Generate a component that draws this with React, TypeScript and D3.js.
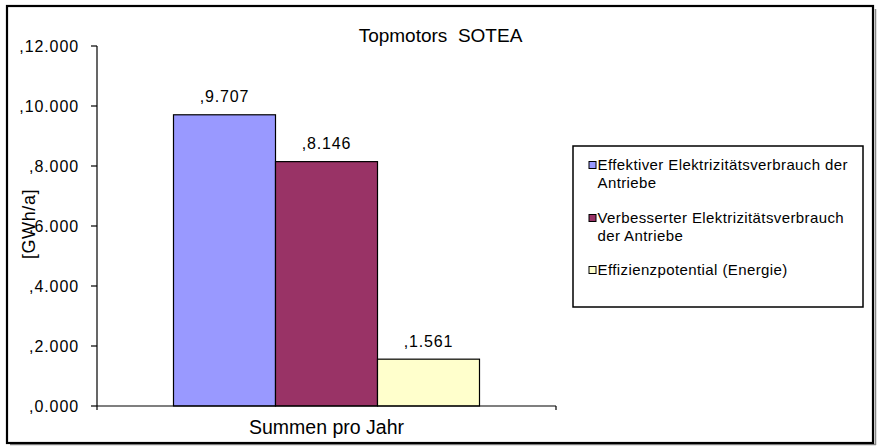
import React from "react";
import * as d3 from "d3";

const title = "Topmotors  SOTEA";
const categories = ["Summen pro Jahr"];
const seriesNames = [
  "Effektiver Elektrizitätsverbrauch der Antriebe",
  "Verbesserter Elektrizitätsverbrauch der Antriebe",
  "Effizienzpotential (Energie)",
];
const legendLines = [
  ["Effektiver Elektrizitätsverbrauch der", "Antriebe"],
  ["Verbesserter Elektrizitätsverbrauch", "der Antriebe"],
  ["Effizienzpotential (Energie)"],
];
const seriesValues = [9.707, 8.146, 1.561];
const seriesColors = ["#9999FF", "#993366", "#FFFFCC"];
const yTicks = [0, 2, 4, 6, 8, 10, 12];
const yLabel = "[GWh/a]";

const FONT = "'Liberation Sans', Arial, sans-serif";

export default function App() {
  const plot = { left: 97, right: 556, top: 46, bottom: 406 };
  const y = d3.scaleLinear().domain([0, 12]).range([plot.bottom, plot.top]);
  const x0 = d3
    .scaleBand<string>()
    .domain(categories)
    .range([plot.left, plot.right])
    .paddingInner(0)
    .paddingOuter(0.25);
  const x1 = d3
    .scaleBand<string>()
    .domain(seriesNames)
    .range([0, x0.bandwidth()]);
  const fmt = (v: number) => "," + v.toFixed(3);

  const legendBaselines = [170, 188, 223, 241, 275];
  let li = 0;

  return (
    <svg
      width={884}
      height={448}
      style={{ position: "absolute", left: 0, top: 0, background: "#fff" }}
      fontFamily={FONT}
    >
      <rect x={0} y={0} width={884} height={448} fill="#fff" />
      {/* outer border with shadow */}
      <line x1={10} y1={444.5} x2={876} y2={444.5} stroke="#888" strokeWidth={1.5} />
      <line x1={875.5} y1={9} x2={875.5} y2={445} stroke="#888" strokeWidth={1.5} />
      <rect x={7} y={6} width={866} height={437} fill="#fff" stroke="#000" strokeWidth={2.2} />

      {/* title */}
      <text
        x={440.5}
        y={41.5}
        textAnchor="middle"
        fontSize={19}
        fill="#000"
        style={{ whiteSpace: "pre" }}
      >
        {title}
      </text>

      {/* bars */}
      {categories.map((c) =>
        seriesNames.map((s, i) => {
          const bx = (x0(c) as number) + (x1(s) as number);
          const bw = x1.bandwidth();
          const v = seriesValues[i];
          return (
            <g key={s}>
              <rect
                x={bx}
                y={y(v)}
                width={bw}
                height={y(0) - y(v)}
                fill={seriesColors[i]}
                stroke="#000"
                strokeWidth={1.2}
              />
              <text
                x={bx + bw / 2}
                y={y(v) - 12.5}
                textAnchor="middle"
                fontSize={16}
                letterSpacing={0.8}
                fill="#000"
              >
                {fmt(v)}
              </text>
            </g>
          );
        })
      )}

      {/* y axis */}
      <line x1={plot.left} y1={plot.top} x2={plot.left} y2={plot.bottom + 4} stroke="#000" strokeWidth={1.2} />
      {yTicks.map((t) => (
        <g key={t}>
          <line x1={plot.left - 6} y1={y(t)} x2={plot.left} y2={y(t)} stroke="#000" strokeWidth={1.2} />
          <text
            x={plot.left - 18}
            y={y(t) + 5.5}
            textAnchor="end"
            fontSize={16}
            letterSpacing={0.9}
            fill="#000"
          >
            {fmt(t)}
          </text>
        </g>
      ))}

      {/* x axis */}
      <line x1={plot.left} y1={plot.bottom} x2={plot.right} y2={plot.bottom} stroke="#000" strokeWidth={1.2} />
      <line x1={plot.right} y1={plot.bottom} x2={plot.right} y2={plot.bottom + 4} stroke="#000" strokeWidth={1.2} />
      {categories.map((c) => (
        <text
          key={c}
          x={(x0(c) as number) + x0.bandwidth() / 2}
          y={434}
          textAnchor="middle"
          fontSize={19.5}
          fill="#000"
        >
          {c}
        </text>
      ))}

      {/* y label */}
      <text
        transform={`translate(35,224) rotate(-90)`}
        textAnchor="middle"
        fontSize={18}
        letterSpacing={0.6}
        fill="#000"
      >
        {yLabel}
      </text>

      {/* legend */}
      <rect x={573} y={146} width={290} height={161} fill="#fff" stroke="#000" strokeWidth={1.5} />
      {legendLines.map((lines, i) => {
        const first = li;
        li += lines.length;
        const by = legendBaselines[first];
        return (
          <g key={i}>
            <rect x={589} y={by - 8.5} width={7} height={7} fill={seriesColors[i]} stroke="#000" strokeWidth={1} />
            {lines.map((ln, j) => (
              <text
                key={j}
                x={597.5}
                y={legendBaselines[first + j]}
                fontSize={15}
                letterSpacing={0.4}
                fill="#000"
              >
                {ln}
              </text>
            ))}
          </g>
        );
      })}
    </svg>
  );
}
